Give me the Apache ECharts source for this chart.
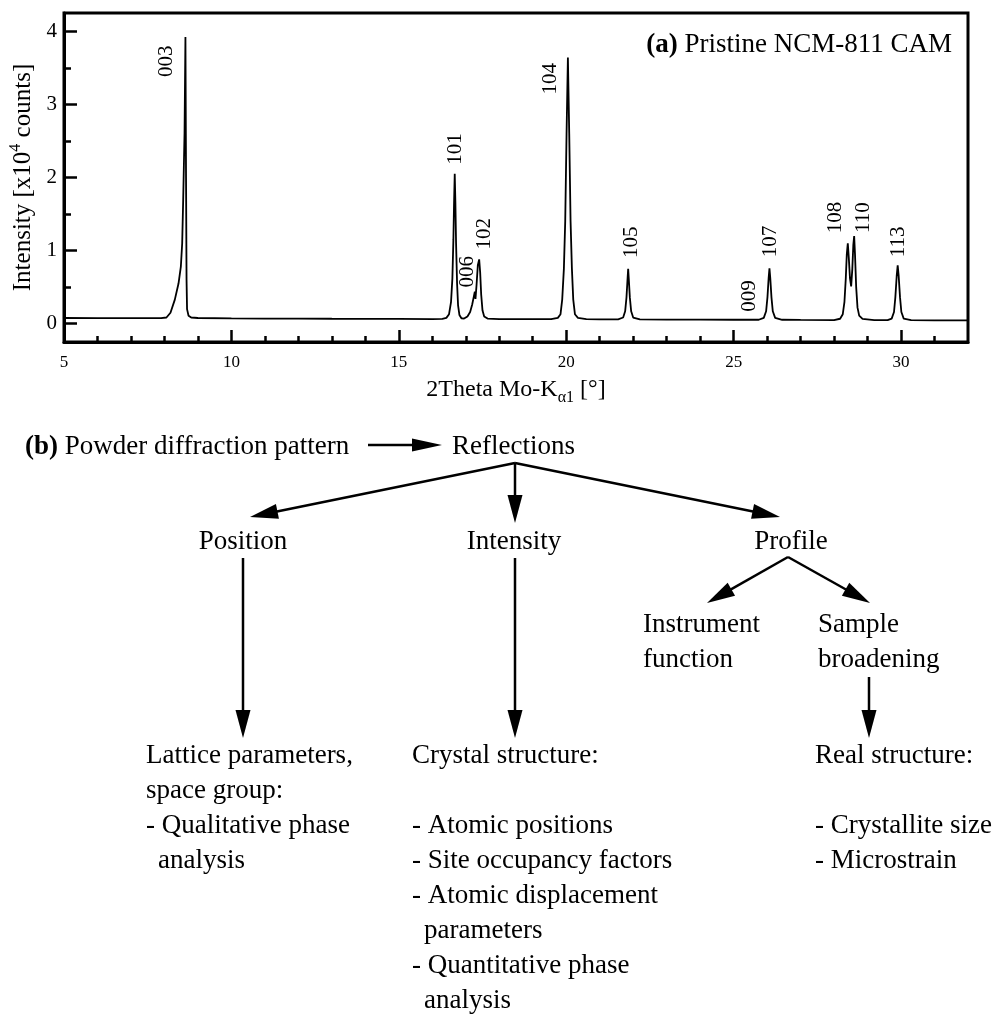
<!DOCTYPE html>
<html>
<head>
<meta charset="utf-8">
<script src="https://cdn.jsdelivr.net/npm/echarts@6/dist/echarts.min.js"></script>
<style>
  html, body { margin: 0; padding: 0; background: #fff; }
  #chart { width: 992px; height: 1014px; }
</style>
</head>
<body>
<div id="chart"></div>
<script>
// Powder pattern of pristine NCM-811, Mo-Kα1 radiation (2θ in degrees, intensity in 10^4 counts)
const twoTheta = [
  5.0, 6.0, 7.0, 7.9, 8.06, 8.18, 8.31, 8.42, 8.49, 8.53, 8.56, 8.60, 8.627, 8.645, 8.66, 8.675, 8.72, 8.80, 9.0,
  10.0, 11.0, 12.0, 13.0, 14.0, 15.0, 16.0, 16.3,
  16.42, 16.50, 16.56, 16.60, 16.63, 16.65, 16.67, 16.69, 16.71, 16.74, 16.77, 16.81, 16.87, 16.95,
  17.05, 17.13, 17.19, 17.24, 17.27, 17.29, 17.32, 17.36, 17.40, 17.43, 17.46, 17.50, 17.55, 17.65,
  18.0, 19.0, 19.55, 19.75, 19.83, 19.88, 19.93, 19.97, 20.01, 20.05, 20.09, 20.13, 20.17, 20.21, 20.26, 20.35, 20.6,
  21.0, 21.55, 21.70, 21.76, 21.80, 21.83, 21.85, 21.87, 21.90, 21.94, 22.00, 22.2,
  23.0, 24.0, 25.0, 25.75, 25.90, 25.97, 26.01, 26.045, 26.07, 26.095, 26.13, 26.17, 26.24, 26.45,
  27.0, 28.0, 28.18, 28.26, 28.31, 28.35, 28.38, 28.41, 28.44, 28.475, 28.51, 28.545, 28.575, 28.60, 28.625, 28.66, 28.70, 28.75, 28.85,
  29.2, 29.6, 29.72, 29.79, 29.83, 29.87, 29.90, 29.93, 29.97, 30.01, 30.08, 30.3, 31.0, 32.0
];
const intensity = [
  0.078, 0.077, 0.076, 0.076, 0.085, 0.15, 0.33, 0.55, 0.78, 1.1, 1.7, 2.61, 3.92, 2.0, 0.6, 0.2, 0.11, 0.085, 0.078,
  0.073, 0.071, 0.070, 0.068, 0.067, 0.066, 0.064, 0.065,
  0.08, 0.13, 0.30, 0.62, 1.15, 1.65, 2.05, 1.65, 1.10, 0.55, 0.25, 0.12, 0.075, 0.07,
  0.10, 0.16, 0.26, 0.37, 0.44, 0.34, 0.52, 0.80, 0.88, 0.70, 0.40, 0.18, 0.10, 0.07,
  0.063, 0.062, 0.062, 0.08, 0.13, 0.33, 0.75, 1.4, 2.6, 3.64, 2.6, 1.4, 0.75, 0.33, 0.13, 0.08, 0.062,
  0.060, 0.060, 0.085, 0.17, 0.36, 0.60, 0.75, 0.60, 0.36, 0.17, 0.085, 0.060,
  0.057, 0.055, 0.054, 0.054, 0.08, 0.17, 0.36, 0.62, 0.757, 0.62, 0.36, 0.17, 0.08, 0.054,
  0.052, 0.050, 0.068, 0.13, 0.30, 0.62, 0.95, 1.10, 0.90, 0.62, 0.51, 0.75, 1.08, 1.20, 0.95, 0.50, 0.22, 0.11, 0.065,
  0.050, 0.049, 0.07, 0.16, 0.36, 0.65, 0.80, 0.65, 0.36, 0.16, 0.07, 0.048, 0.047, 0.046
];

// Indexed reflections (hkl) with the 2θ and intensity they are attached to
const reflections = ['003', '101', '006', '102', '104', '105', '009', '107', '108', '110', '113'];
const reflectionTwoTheta = [8.627, 16.67, 17.27, 17.40, 20.05, 21.85, 25.48, 26.07, 28.41, 28.60, 29.90];
const reflectionIntensity = [3.92, 2.05, 0.44, 0.88, 3.64, 0.75, 0.054, 0.757, 1.10, 1.20, 0.80];

// Axis ticks
const xTickValues = [5, 10, 15, 20, 25, 30];
const xMinorTickValues = [6, 7, 8, 9, 11, 12, 13, 14, 16, 17, 18, 19, 21, 22, 23, 24, 26, 27, 28, 29, 31];
const yTickValues = [0, 1, 2, 3, 4];
const yMinorTickValues = [0.5, 1.5, 2.5, 3.5];

const SERIF = '"Liberation Serif", "Times New Roman", Times, serif';
const INK = '#000';

// screen-space nudges [right, down] in px for the rotated hkl labels, from the top of their reflection
const hklLabelNudge = {
  '003': [-19, 40], '101': [1, -9], '006': [-7, -4], '102': [5, -10], '104': [-17, 37],
  '105': [3, -11], '009': [0, -8], '107': [1, -11], '108': [-12, -10], '110': [9, -3], '113': [1, -8]
};
// label offsets are applied in the rotated (90°) text frame
function rotatedOffset(n) { return [-n[1], n[0]]; }

// ---------- flow chart helpers ----------
const FLOW_SIZE = 27;
function txt(str, x, y, extra) {
  return {
    type: 'text', x: x, y: y, silent: true,
    style: Object.assign({
      text: str, fontSize: FLOW_SIZE, fontFamily: SERIF, fill: INK,
      align: 'left', verticalAlign: 'middle', textAlign: 'left', textVerticalAlign: 'middle'
    }, extra || {})
  };
}
function arrow(x1, y1, x2, y2, headLen, headHalf) {
  headLen = headLen || 28; headHalf = headHalf || 7.5;
  const dx = x2 - x1, dy = y2 - y1, len = Math.hypot(dx, dy);
  const ux = dx / len, uy = dy / len;
  const bx = x2 - ux * headLen, by = y2 - uy * headLen;
  const px = -uy, py = ux;
  return [
    { type: 'line', silent: true, shape: { x1: x1, y1: y1, x2: bx + ux * 3, y2: by + uy * 3 },
      style: { stroke: INK, lineWidth: 2.5 } },
    { type: 'polygon', silent: true,
      shape: { points: [[x2, y2], [bx + px * headHalf, by + py * headHalf], [bx - px * headHalf, by - py * headHalf]] },
      style: { fill: INK } }
  ];
}
function block(x, y0, lines, indent) {
  const out = [];
  lines.forEach(function (ln, i) {
    if (!ln) return;
    const cont = ln.charAt(0) === '>';
    out.push(txt(cont ? ln.slice(1) : ln, cont ? x + indent : x, y0 + i * 35));
  });
  return out;
}

const graphics = [].concat(
  [{
    type: 'text', x: 952, y: 45, silent: true,
    style: {
      text: '{b|(a)}{r| Pristine NCM-811 CAM}', fill: INK,
      align: 'right', verticalAlign: 'middle', textAlign: 'right', textVerticalAlign: 'middle',
      fontSize: 27, fontFamily: SERIF,
      rich: {
        b: { fontSize: 27, fontFamily: SERIF, fontWeight: 'bold', fill: INK },
        r: { fontSize: 27, fontFamily: SERIF, fill: INK }
      }
    }
  }],
  [{
    type: 'text', x: 25, y: 447, silent: true,
    style: {
      text: '{b|(b)}{r| Powder diffraction pattern}', fill: INK,
      align: 'left', verticalAlign: 'middle', textAlign: 'left', textVerticalAlign: 'middle',
      fontSize: FLOW_SIZE, fontFamily: SERIF,
      rich: {
        b: { fontSize: FLOW_SIZE, fontFamily: SERIF, fontWeight: 'bold', fill: INK },
        r: { fontSize: FLOW_SIZE, fontFamily: SERIF, fill: INK }
      }
    }
  }],
  arrow(368, 445, 442, 445, 30, 6.5),
  [txt('Reflections', 452, 447)],
  arrow(515, 463, 250, 517),
  arrow(515, 463, 515, 523),
  arrow(515, 463, 780, 517),
  [txt('Position', 243, 542, { align: 'center', textAlign: 'center' }),
   txt('Intensity', 514, 542, { align: 'center', textAlign: 'center' }),
   txt('Profile', 791, 542, { align: 'center', textAlign: 'center' })],
  arrow(788, 557, 707, 603),
  arrow(788, 557, 870, 603),
  [txt('Instrument', 643, 625), txt('function', 643, 660),
   txt('Sample', 818, 625), txt('broadening', 818, 660)],
  arrow(243, 558, 243, 738),
  arrow(515, 558, 515, 738),
  arrow(869, 677, 869, 738),
  block(146, 756, ['Lattice parameters,', 'space group:', '- Qualitative phase', '>analysis'], 12),
  block(412, 756, ['Crystal structure:', '', '- Atomic positions', '- Site occupancy factors',
    '- Atomic displacement', '>parameters', '- Quantitative phase', '>analysis'], 12),
  block(815, 756, ['Real structure:', '', '- Crystallite size', '- Microstrain'], 12)
);

const chart = echarts.init(document.getElementById('chart'), null, { renderer: 'canvas' });

const tickLabel = { color: INK, fontFamily: SERIF };

chart.setOption({
  animation: false,
  backgroundColor: '#fff',
  grid: {
    left: 64, top: 13, width: 904, height: 329,
    show: true, borderColor: INK, borderWidth: 3, backgroundColor: 'transparent', containLabel: false
  },
  xAxis: [{
    type: 'value', min: 5, max: 32, position: 'bottom',
    axisLine: { show: true, onZero: false, lineStyle: { color: INK, width: 3 } },
    axisTick: { show: true, inside: true, length: 12, customValues: xTickValues, lineStyle: { color: INK, width: 2.5 } },
    axisLabel: Object.assign({ customValues: xTickValues, margin: 12, fontSize: 17 }, tickLabel),
    splitLine: { show: false },
    name: '{t|2Theta Mo-K}{sub|α1}{t| [°]}',
    nameLocation: 'middle', nameGap: 32,
    nameTextStyle: {
      color: INK, fontFamily: SERIF, fontSize: 24,
      rich: {
        t: { fontSize: 24, fontFamily: SERIF, color: INK, lineHeight: 32 },
        sub: { fontSize: 16, fontFamily: SERIF, color: INK, lineHeight: 16, verticalAlign: 'bottom' }
      }
    }
  }, {
    type: 'value', min: 5, max: 32, position: 'bottom',
    axisLine: { show: false, onZero: false },
    axisTick: { show: true, inside: true, length: 6, customValues: xMinorTickValues, lineStyle: { color: INK, width: 2.5 } },
    axisLabel: { show: false },
    splitLine: { show: false }
  }],
  yAxis: [{
    type: 'value', min: -0.25, max: 4.25, position: 'left',
    axisLine: { show: true, onZero: false, lineStyle: { color: INK, width: 3 } },
    axisTick: { show: true, inside: true, length: 13, customValues: yTickValues, lineStyle: { color: INK, width: 2.5 } },
    axisLabel: Object.assign({ customValues: yTickValues, margin: 7, fontSize: 21 }, tickLabel),
    splitLine: { show: false },
    name: '{t|Intensity [x10}{sup|4}{t| counts]}',
    nameLocation: 'middle', nameGap: 26, nameRotate: 90,
    nameTextStyle: {
      color: INK, fontFamily: SERIF, fontSize: 25,
      rich: {
        t: { fontSize: 25, fontFamily: SERIF, color: INK, lineHeight: 30 },
        sup: { fontSize: 16, fontFamily: SERIF, color: INK, lineHeight: 16, verticalAlign: 'top' }
      }
    }
  }, {
    type: 'value', min: -0.25, max: 4.25, position: 'left',
    axisLine: { show: false, onZero: false },
    axisTick: { show: true, inside: true, length: 7, customValues: yMinorTickValues, lineStyle: { color: INK, width: 2.5 } },
    axisLabel: { show: false },
    splitLine: { show: false }
  }],
  series: [{
    type: 'line',
    xAxisIndex: 0, yAxisIndex: 0,
    data: twoTheta.map(function (x, i) { return [x, intensity[i]]; }),
    showSymbol: false, symbol: 'none',
    lineStyle: { color: INK, width: 1.8 },
    silent: true, z: 3
  }, {
    type: 'scatter',
    xAxisIndex: 0, yAxisIndex: 0,
    data: reflections.map(function (h, i) {
      return {
        name: h, value: [reflectionTwoTheta[i], reflectionIntensity[i]],
        label: { offset: rotatedOffset(hklLabelNudge[h]) }
      };
    }),
    symbol: 'circle', symbolSize: 0.01,
    itemStyle: { color: INK, opacity: 1 },
    label: {
      show: true, formatter: function (p) { return p.name; },
      position: 'top', distance: 0, rotate: 90, align: 'left', verticalAlign: 'middle',
      fontSize: 21, fontFamily: SERIF, color: INK, opacity: 1, textBorderWidth: 0
    },
    emphasis: { disabled: true },
    silent: true, z: 4
  }],
  graphic: { elements: graphics }
});
</script>
</body>
</html>
